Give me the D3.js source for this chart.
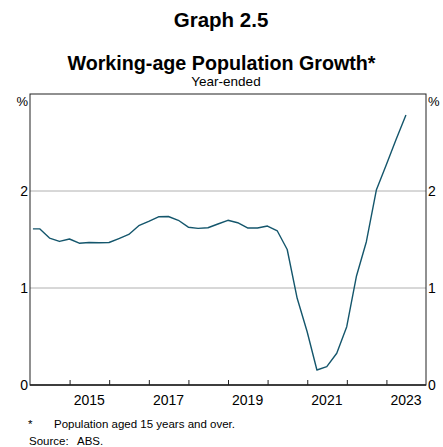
<!DOCTYPE html>
<html>
<head>
<meta charset="utf-8">
<script src="https://cdn.jsdelivr.net/npm/d3@7"></script>
<style>
  body { margin: 0; background: #fff; }
  svg { display: block; font-family: "Liberation Sans", Arial, sans-serif; }
</style>
</head>
<body>
<svg class="main"></svg>
<script>
let dates = ['2014-01-28','2014-03-31','2014-06-30','2014-09-30','2014-12-31',
  '2015-03-31','2015-06-30','2015-09-30','2015-12-31',
  '2016-03-31','2016-06-30','2016-09-30','2016-12-31',
  '2017-03-31','2017-06-30','2017-09-30','2017-12-31',
  '2018-03-31','2018-06-30','2018-09-30','2018-12-31',
  '2019-03-31','2019-06-30','2019-09-30','2019-12-31',
  '2020-03-31','2020-06-30','2020-09-30','2020-12-31',
  '2021-03-31','2021-06-30','2021-09-30','2021-12-31',
  '2022-03-31','2022-06-30','2022-09-30','2022-12-31',
  '2023-03-31','2023-06-30'];
let growth = [1.61, 1.61, 1.515, 1.48, 1.505,
  1.462, 1.469, 1.467, 1.469,
  1.51, 1.552, 1.642, 1.686,
  1.734, 1.737, 1.698, 1.627,
  1.615, 1.621, 1.66, 1.698,
  1.673, 1.619, 1.619, 1.639,
  1.588, 1.397, 0.894, 0.549,
  0.155, 0.189, 0.327, 0.601,
  1.124, 1.477, 2.01, 2.27,
  2.53, 2.784];
let yTicks = [0, 1, 2];
let yearTicks = [2015, 2016, 2017, 2018, 2019, 2020, 2021, 2022, 2023];
let yearLabels = [2015, 2017, 2019, 2021, 2023];

let w = 443, h = 447;
let pLeft = 30, pRight = 426, pTop = 94, pBottom = 385;

let svg = d3.select('.main').attr('width', w).attr('height', h);
let parse = d3.timeParse('%Y-%m-%d');
let data = dates.map((d, i) => ({date: parse(d), v: growth[i]}));

let x = d3.scaleTime()
  .domain([new Date(2014, 0, 1), new Date(2024, 0, 1)])
  .range([pLeft, pRight]);
let y = d3.scaleLinear().domain([0, 3]).range([pBottom, pTop]);

// titles
svg.append('text').attr('x', 221).attr('y', 27).attr('text-anchor', 'middle')
  .style('font-size', '20.5px').style('font-weight', 'bold').text('Graph 2.5');
svg.append('text').attr('x', 221.5).attr('y', 70).attr('text-anchor', 'middle')
  .style('font-size', '19.7px').style('font-weight', 'bold').text('Working-age Population Growth*');
svg.append('text').attr('x', 226).attr('y', 86).attr('text-anchor', 'middle')
  .style('font-size', '13.5px').text('Year-ended');

// gridlines
svg.append('g').selectAll('line').data(yTicks.filter(d => d > 0)).enter().append('line')
  .attr('x1', pLeft).attr('x2', pRight)
  .attr('y1', d => y(d)).attr('y2', d => y(d))
  .attr('stroke', '#b0b0b0').attr('stroke-width', 1);

// frame
svg.append('rect').attr('x', pLeft).attr('y', pTop)
  .attr('width', pRight - pLeft).attr('height', pBottom - pTop)
  .attr('fill', 'none').attr('stroke', '#222').attr('stroke-width', 1);

// line
let line = d3.line().x(d => x(d.date)).y(d => y(d.v));
svg.append('path').datum(data).attr('d', line)
  .attr('fill', 'none').attr('stroke', '#14566c').attr('stroke-width', 1.4)
  .attr('stroke-linejoin', 'round');

// x axis
let xAxis = svg.append('g').attr('transform', `translate(0,${pBottom})`)
  .call(d3.axisTop(x).tickValues(yearTicks.map(d => new Date(d, 0, 1))).tickSize(5).tickFormat(''));
xAxis.select('.domain').remove();
xAxis.selectAll('line').attr('stroke', '#222');
svg.append('line').attr('x1', pLeft).attr('x2', pRight).attr('y1', pBottom).attr('y2', pBottom)
  .attr('stroke', '#222').attr('stroke-width', 1.6);

svg.append('g').selectAll('text').data(yearLabels).enter().append('text')
  .attr('x', d => x(new Date(d, 6, 1)))
  .attr('y', 405).attr('text-anchor', 'middle')
  .style('font-size', '14px').text(d => d);

// y labels
let yl = svg.append('g');
yl.selectAll('text.l').data(yTicks).enter().append('text').attr('class', 'l')
  .attr('x', pLeft - 2).attr('y', d => y(d) + 5).attr('text-anchor', 'end')
  .style('font-size', '14px').text(d => d);
yl.selectAll('text.r').data(yTicks).enter().append('text').attr('class', 'r')
  .attr('x', pRight + 2).attr('y', d => y(d) + 5).attr('text-anchor', 'start')
  .style('font-size', '14px').text(d => d);
yl.append('text').attr('x', pLeft - 2).attr('y', pTop + 12).attr('text-anchor', 'end')
  .style('font-size', '13px').text('%');
yl.append('text').attr('x', pRight + 2).attr('y', pTop + 12).attr('text-anchor', 'start')
  .style('font-size', '13px').text('%');

// notes
svg.append('text').attr('x', 28).attr('y', 428).style('font-size', '11.5px').text('*');
svg.append('text').attr('x', 54).attr('y', 428).style('font-size', '11.5px').text('Population aged 15 years and over.');
svg.append('text').attr('x', 29).attr('y', 445).style('font-size', '11.5px').text('Source:');
svg.append('text').attr('x', 77).attr('y', 445).style('font-size', '11.5px').text('ABS.');
</script>
</body>
</html>
